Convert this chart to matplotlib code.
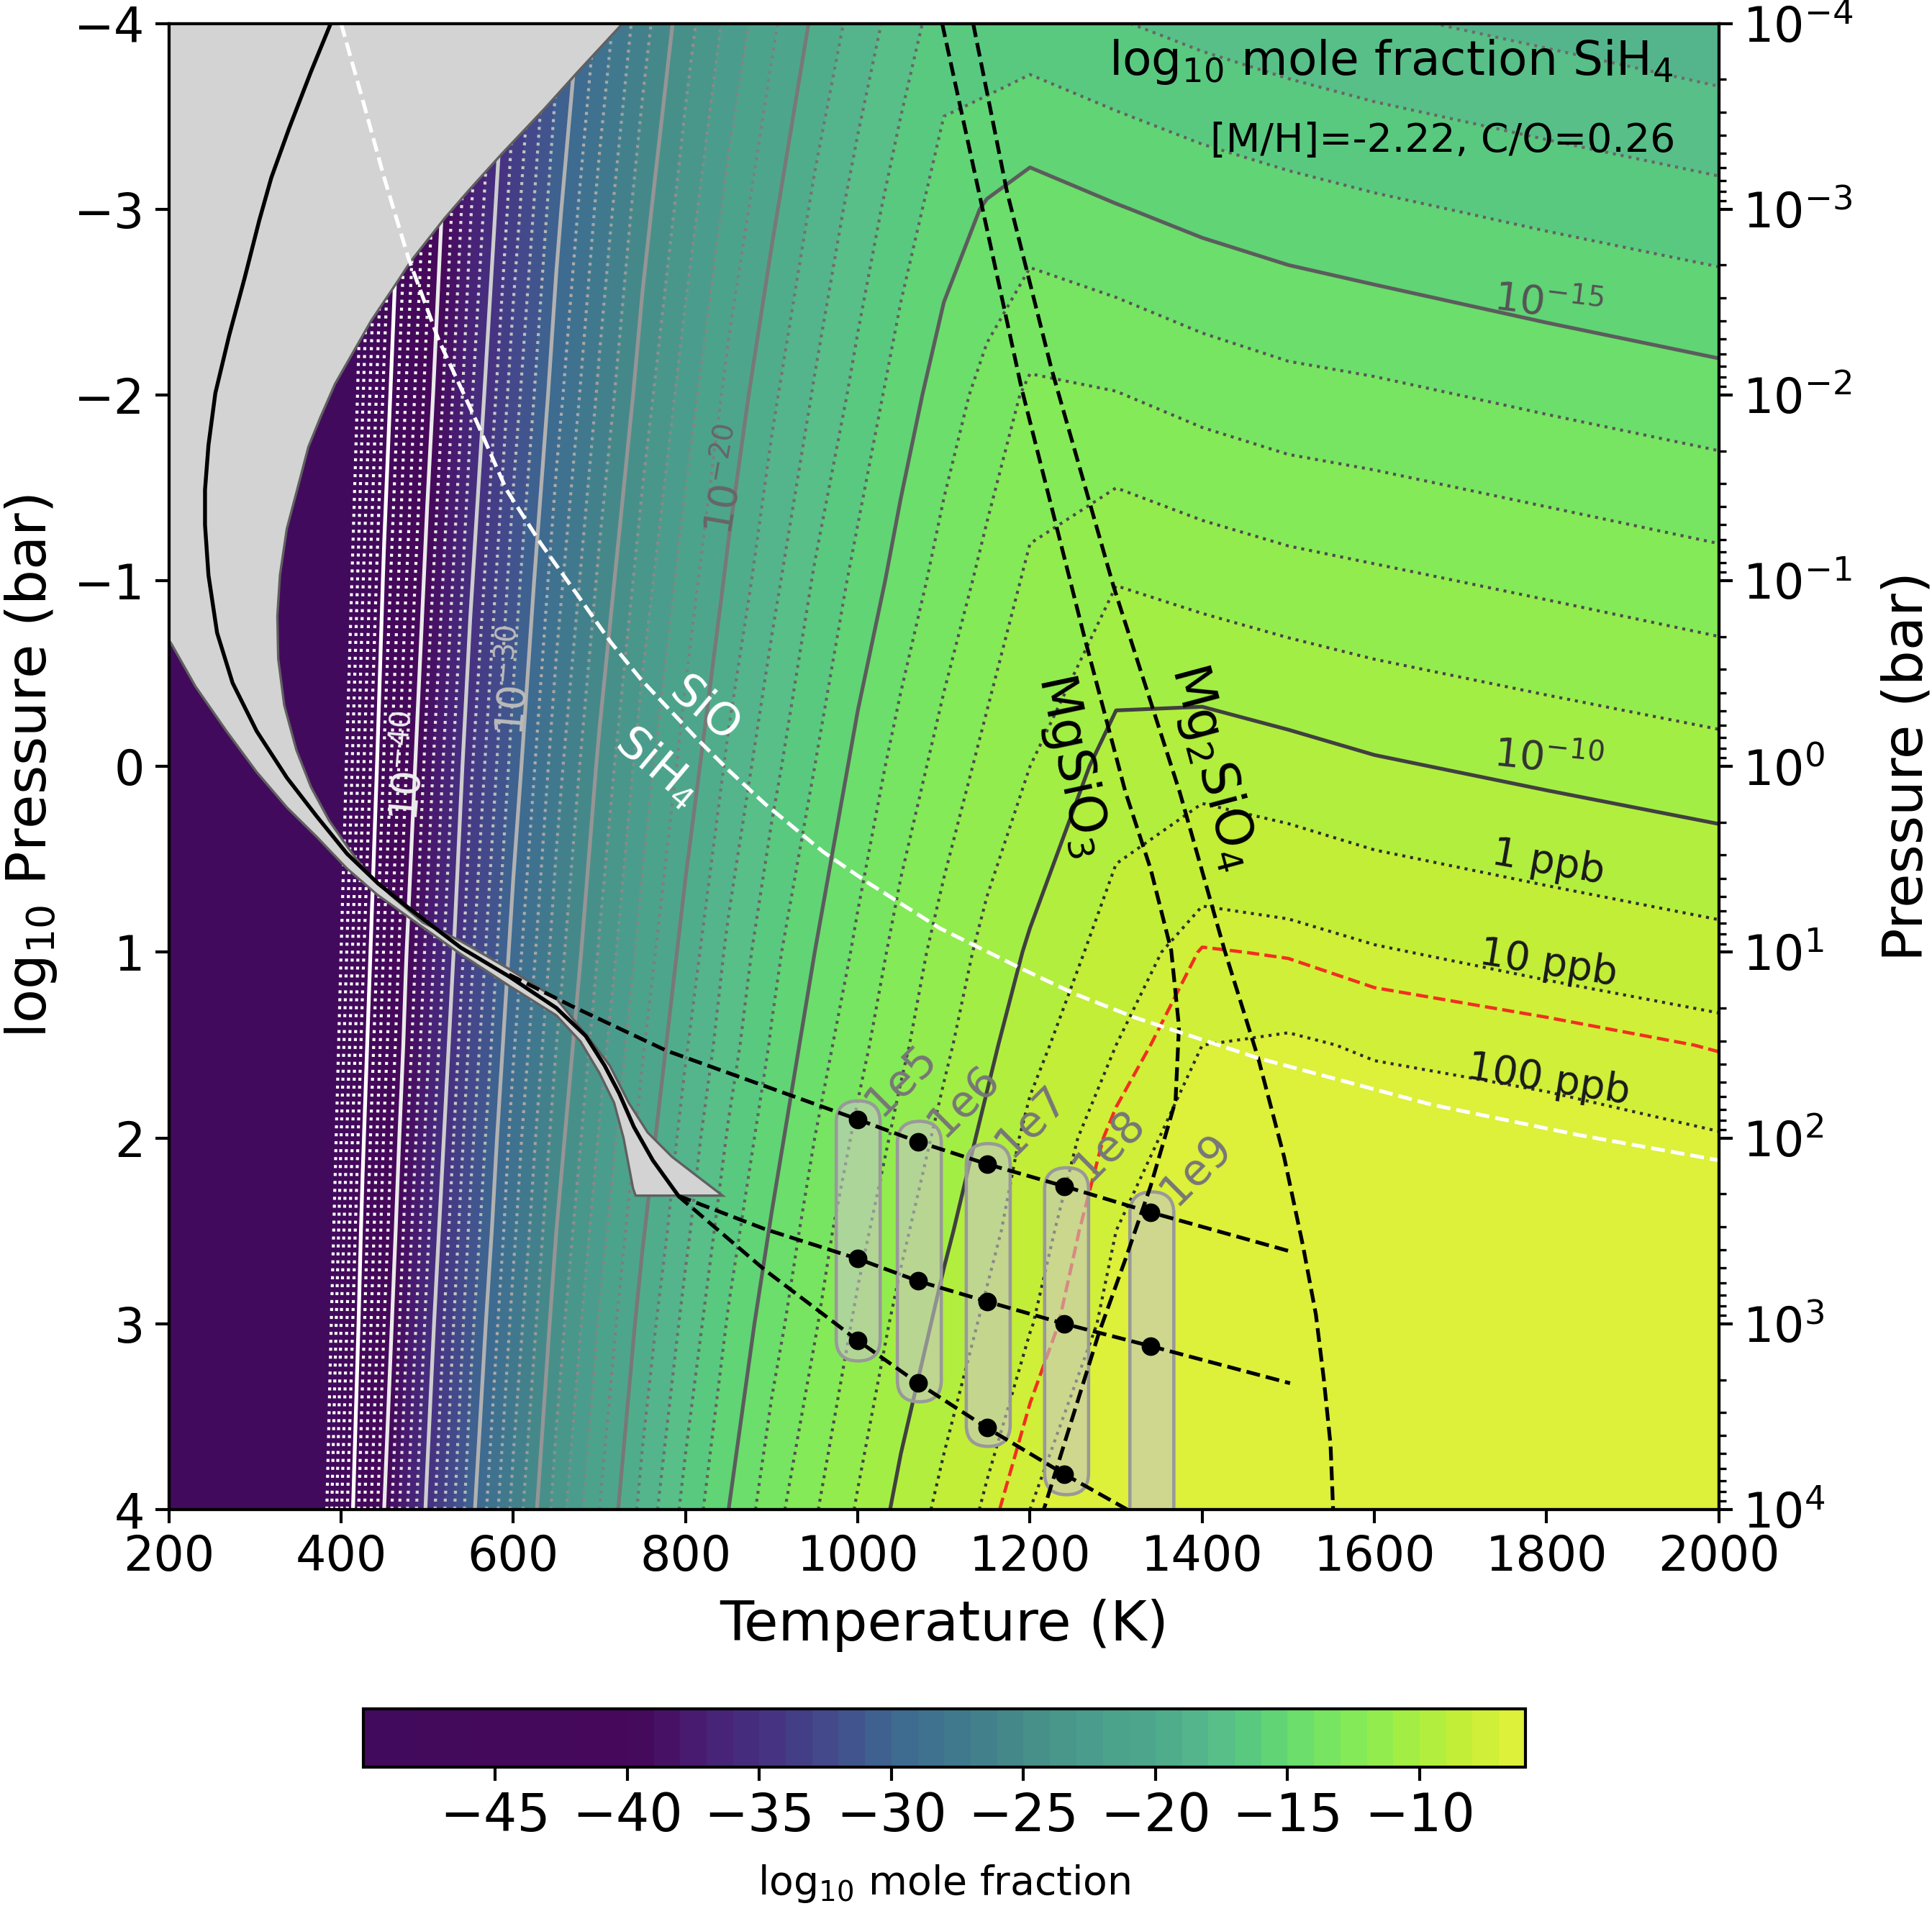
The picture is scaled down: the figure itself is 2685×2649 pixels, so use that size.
"""
SiH4 mole fraction map in the temperature-pressure plane
"""
import numpy as np
import matplotlib
matplotlib.use("Agg")
import matplotlib.pyplot as plt
import matplotlib.patches as mpatches
from matplotlib.cm import ScalarMappable
from matplotlib.colors import BoundaryNorm, LinearSegmentedColormap
from matplotlib.ticker import LogLocator, NullFormatter

# grid of log10 mole fraction, one row per temperature
pressure_grid = [-4, -3, -2, -1, 0, 1, 1.5, 2, 2.5, 3, 4]
temperature_grid = [200, 350, 380, 400, 425, 450, 475, 500, 550, 600, 650, 700, 750, 800,
                    850, 900, 950, 1000, 1050, 1100, 1150, 1200, 1300, 1400, 1500, 1600, 1800, 2000]
field_rows = [
    [-112.7, -111.8, -110.8, -109.8, -108.9, -107.9, -107.4, -106.9, -106.5, -106.0, -105.0],
    [-64.2, -63.3, -62.3, -61.3, -60.4, -59.4, -58.9, -58.4, -58.0, -57.5, -56.5],
    [-58.3, -57.3, -56.3, -55.4, -54.4, -53.4, -53.0, -52.5, -52.0, -51.5, -50.6],
    [-54.8, -53.8, -52.9, -51.9, -50.9, -50.0, -49.5, -49.0, -48.5, -48.0, -47.1],
    [-51.0, -50.0, -49.1, -48.1, -47.2, -46.2, -45.7, -45.2, -44.7, -44.3, -43.3],
    [-47.7, -46.8, -45.8, -44.8, -43.9, -42.9, -42.4, -41.9, -41.5, -41.0, -40.0],
    [-45.0, -44.0, -43.0, -42.1, -41.1, -40.1, -39.7, -39.2, -38.7, -38.2, -37.2],
    [-42.5, -41.5, -40.6, -39.6, -38.6, -37.7, -37.2, -36.7, -36.2, -35.7, -34.8],
    [-38.1, -37.1, -36.2, -35.2, -34.2, -33.3, -32.8, -32.3, -31.8, -31.3, -30.4],
    [-34.4, -33.5, -32.5, -31.5, -30.6, -29.6, -29.1, -28.6, -28.2, -27.7, -26.7],
    [-31.3, -30.3, -29.4, -28.4, -27.4, -26.5, -26.0, -25.5, -25.0, -24.5, -23.6],
    [-28.7, -27.7, -26.8, -25.8, -24.8, -23.9, -23.4, -22.9, -22.4, -21.9, -21.0],
    [-26.4, -25.4, -24.5, -23.5, -22.5, -21.6, -21.1, -20.6, -20.1, -19.6, -18.7],
    [-24.4, -23.5, -22.5, -21.5, -20.6, -19.6, -19.1, -18.6, -18.2, -17.7, -16.7],
    [-22.7, -21.7, -20.7, -19.8, -18.8, -17.8, -17.4, -16.9, -16.4, -15.9, -15.0],
    [-21.2, -20.2, -19.2, -18.3, -17.3, -16.3, -15.9, -15.4, -14.9, -14.4, -13.4],
    [-19.8, -18.8, -17.9, -16.9, -16.0, -15.0, -14.5, -14.0, -13.5, -13.1, -12.1],
    [-18.6, -17.6, -16.7, -15.7, -14.7, -13.8, -13.3, -12.8, -12.3, -11.8, -10.9],
    [-17.5, -16.5, -15.5, -14.6, -13.6, -12.6, -12.2, -11.7, -11.2, -10.7, -9.7],
    [-16.5, -15.5, -14.5, -13.6, -12.6, -11.6, -11.2, -10.7, -10.2, -9.7, -8.7],
    [-16.7, -14.9, -13.65, -12.7, -11.7, -10.7, -10.25, -9.75, -9.3, -8.8, -7.85],
    [-16.55, -14.55, -12.8, -11.8, -11.0, -9.85, -9.3, -8.75, -8.4, -8.05, -7.0],
    [-16.94, -14.94, -12.96, -11.04, -9.55, -8.5, -8.0, -7.4, -7.0, -6.7, -6.6],
    [-17.3, -15.3, -13.35, -11.35, -9.36, -7.55, -7.0, -6.6, -6.6, -6.6, -6.6],
    [-17.6, -15.58, -13.65, -11.62, -9.6, -7.65, -6.9, -6.6, -6.6, -6.6, -6.6],
    [-17.86, -15.82, -13.8, -11.82, -9.88, -7.92, -7.08, -6.6, -6.6, -6.6, -6.6],
    [-18.27, -16.24, -14.21, -12.2, -10.25, -8.3, -7.3, -6.7, -6.6, -6.6, -6.6],
    [-18.7, -16.63, -14.6, -12.6, -10.6, -8.66, -7.65, -6.95, -6.6, -6.6, -6.6],
]

# colours
cmap_levels = [-50, -40, -38, -35, -32, -30, -27, -25, -22, -20, -18, -16, -14, -12, -10, -8, -6]
cmap_colors = ["#420a5c", "#46085a", "#48196e", "#463282", "#42508c", "#3e6991", "#417d8c",
               "#468c8a", "#4ba08c", "#4ea88c", "#55b98c", "#5acd7d", "#6ee169", "#87eb55",
               "#a5ee44", "#c3ee37", "#ddf03a"]

# grey band of the profile envelope, top edge to the tip and back along the lower edge
band_t = [200, 727, 675, 636, 587, 548, 520, 481, 464, 435, 414, 393, 376, 362, 349, 337, 329, 326,
          327, 334, 348, 365, 386, 407, 428, 457, 495, 539, 595, 650, 689, 712, 734, 756, 784, 812, 843,
          742, 739, 728, 717, 700, 678, 650, 595, 539, 478, 442, 407, 372, 337, 302, 267, 231, 203, 200]
band_p = [-4, -4, -3.74, -3.54, -3.30, -3.10, -2.95, -2.72, -2.60, -2.40, -2.23, -2.06, -1.88, -1.72,
          -1.49, -1.28, -1.03, -0.81, -0.58, -0.33, -0.09, 0.11, 0.29, 0.43, 0.56, 0.69, 0.84, 0.94,
          1.09, 1.25, 1.47, 1.61, 1.81, 1.97, 2.10, 2.20, 2.31,
          2.31, 2.27, 2.00, 1.81, 1.65, 1.48, 1.34, 1.18, 1.01, 0.81, 0.69, 0.55, 0.38, 0.22, 0.03,
          -0.19, -0.43, -0.66, -0.68]

profile_t = [388, 365, 340, 319, 305, 288, 270, 254, 246, 242, 242, 246, 256, 274, 302, 337, 372, 407,
             443, 478, 539, 595, 650, 684, 706, 723, 740, 762, 790]
profile_p = [-4, -3.74, -3.44, -3.17, -2.94, -2.63, -2.32, -2.01, -1.73, -1.49, -1.30, -1.03, -0.72,
             -0.45, -0.19, 0.06, 0.27, 0.47, 0.63, 0.76, 0.975, 1.13, 1.30, 1.45, 1.61, 1.76, 1.94,
             2.12, 2.30]

# dashed deep profiles
deep1_t = [595, 668, 778, 1000, 1070, 1150, 1240, 1340, 1502]
deep1_p = [1.12, 1.29, 1.53, 1.90, 2.02, 2.14, 2.26, 2.40, 2.61]
deep2_t = [791, 892, 1000, 1070, 1150, 1240, 1340, 1502]
deep2_p = [2.31, 2.49, 2.65, 2.77, 2.88, 3.00, 3.12, 3.32]
deep3_t = [791, 892, 1000, 1070, 1150, 1240, 1313]
deep3_p = [2.31, 2.71, 3.09, 3.32, 3.56, 3.81, 4.0]

dot_t = [1000, 1070, 1150, 1240, 1340]
dot_p1 = [1.90, 2.02, 2.14, 2.26, 2.40]
dot_p2 = [2.65, 2.77, 2.88, 3.00, 3.12]
dot_p3 = [3.09, 3.32, 3.56, 3.81]

# rounded boxes around the dots, one per gravity
pill_left = [975, 1046, 1126, 1217, 1316]
pill_right = [1026, 1097, 1177, 1268, 1367]
pill_top = [1.80, 1.91, 2.03, 2.16, 2.29]
pill_bottom = [3.20, 3.42, 3.66, 3.92, 4.30]
pill_labels = ["1e5", "1e6", "1e7", "1e8", "1e9"]
pill_label_t = [1050, 1123, 1202, 1292, 1393]
pill_label_p = [1.69, 1.80, 1.91, 2.04, 2.17]

# condensation curves
mgsio3_t = [1098, 1145, 1190, 1263, 1311, 1340, 1364, 1373, 1369, 1340, 1311, 1280, 1216]
mgsio3_p = [-4, -3.0, -2.04, -0.70, 0.14, 0.55, 0.99, 1.40, 1.80, 2.26, 2.65, 3.05, 4.0]
mg2sio4_t = [1134, 1173, 1225, 1297, 1374, 1426, 1465, 1495, 1517, 1532, 1541, 1549, 1552]
mg2sio4_p = [-4, -3.1, -2.14, -0.97, 0.14, 0.99, 1.57, 2.10, 2.58, 2.95, 3.29, 3.65, 4.0]
sio_t = [400, 425, 450, 478, 513, 558, 592, 632, 675, 713, 748, 811, 850, 892, 960, 1010, 1095, 1191,
         1250, 1321, 1465, 1666, 1833, 2000]
sio_p = [-4, -3.59, -3.17, -2.74, -2.30, -1.85, -1.49, -1.20, -0.92, -0.67, -0.47, -0.16, 0.02, 0.20,
         0.46, 0.62, 0.87, 1.09, 1.22, 1.35, 1.57, 1.82, 1.98, 2.12]

# contour labels
label_text = ["$10^{-15}$", "$10^{-10}$", "1 ppb", "10 ppb", "100 ppb", "$10^{-20}$", "$10^{-30}$", "$10^{-40}$"]
label_t = [1802, 1802, 1802, 1802, 1802, 850, 603, 480]
label_p = [-2.49, -0.04, 0.52, 1.06, 1.69, -1.54, -0.46, 0.0]
label_rot = [-7, -6, -10, -9, -9, 80, 85, 85]
label_color = ["#555555", "#333333", "#1a1a1a", "#1a1a1a", "#1a1a1a", "#666666", "#bbbbbb", "#eeeeee"]

cbar_ticks = [-45, -40, -35, -30, -25, -20, -15, -10]

T = np.array(temperature_grid, dtype=float)
P = np.array(pressure_grid, dtype=float)
Z = np.array(field_rows).T

levels = np.arange(-50, -5)
cmap = LinearSegmentedColormap.from_list(
    "sih4", [((v + 50) / 44, c) for v, c in zip(cmap_levels, cmap_colors)], N=256)
cmap.set_under(cmap_colors[0])
norm = BoundaryNorm(levels, cmap.N)

fig = plt.figure(figsize=(8.95, 8.83), dpi=300)
ax = fig.add_axes([0.0874, 0.208, 0.8023, 0.7797])

ax.contourf(T, P, Z, levels=levels, cmap=cmap, norm=norm, extend="min")

# every decade dotted, every fifth one solid, white to dark with the level
line_levels = levels[:-1]
line_grey = [str(min(1.0, 0.25 + (-10 - v) * 0.0222)) if v <= -10 else "0.18" for v in line_levels]
line_styles = ["-" if v % 5 == 0 and v > -50 else ":" for v in line_levels]
line_widths = [1.25 if v % 5 == 0 and v > -50 else 1.0 for v in line_levels]
ax.contour(T, P, Z, levels=line_levels, colors=line_grey, linestyles=line_styles, linewidths=line_widths)
ax.contour(T, P, Z, levels=[-7.6], colors="#f03020", linestyles="--", linewidths=1.1)

ax.fill(band_t, band_p, facecolor="lightgrey", edgecolor="#606060", linewidth=0.8, zorder=3)
ax.plot(profile_t, profile_p, color="black", lw=1.3, zorder=4)

for left, right, top, bottom in zip(pill_left, pill_right, pill_top, pill_bottom):
    pill = mpatches.FancyBboxPatch(
        (left, top), right - left, bottom - top,
        boxstyle="round,pad=0,rounding_size=25.5",
        mutation_aspect=0.115 / 25.5,
        facecolor=(0.78, 0.78, 0.78, 0.6), edgecolor="#999999", linewidth=1.1, zorder=3)
    ax.add_patch(pill)

ax.plot(mgsio3_t, mgsio3_p, color="black", ls="--", lw=1.25, zorder=4)
ax.plot(mg2sio4_t, mg2sio4_p, color="black", ls="--", lw=1.25, zorder=4)
ax.plot(sio_t, sio_p, color="white", ls="--", lw=1.25, zorder=4)

for pt, pp in [(deep1_t, deep1_p), (deep2_t, deep2_p), (deep3_t, deep3_p)]:
    ax.plot(pt, pp, color="black", ls="--", lw=1.25, zorder=4)
ax.plot(dot_t, dot_p1, "o", color="black", ms=5.2, zorder=5)
ax.plot(dot_t, dot_p2, "o", color="black", ms=5.2, zorder=5)
ax.plot(dot_t[:4], dot_p3, "o", color="black", ms=5.2, zorder=5)

for name, lt, lp in zip(pill_labels, pill_label_t, pill_label_p):
    ax.text(lt, lp, name, color="#777777", fontsize=14.5, rotation=45, ha="center", va="center", zorder=6)
for name, lt, lp, rot, col in zip(label_text, label_t, label_p, label_rot, label_color):
    ax.text(lt, lp, name, color=col, fontsize=13.3, rotation=rot, ha="center", va="center", zorder=6)

ax.text(822, -0.3, "SiO", color="white", fontsize=15, rotation=-40, ha="center", va="center", zorder=6)
ax.text(767, 0.0, "SiH$_4$", color="white", fontsize=15, rotation=-40, ha="center", va="center", zorder=6)
ax.text(1249, -0.01, "MgSiO$_3$", color="black", fontsize=17, rotation=-78, ha="center", va="center", zorder=6)
ax.text(1413, 0.0, "Mg$_2$SiO$_4$", color="black", fontsize=17, rotation=-75, ha="center", va="center", zorder=6)

ax.text(0.9706, 0.974, "log$_{10}$ mole fraction SiH$_4$", transform=ax.transAxes, fontsize=15.9,
        ha="right", va="center", zorder=6)
ax.text(0.972, 0.921, "[M/H]=-2.22, C/O=0.26", transform=ax.transAxes, fontsize=13.3,
        ha="right", va="center", zorder=6)

ax.set_xlim(200, 2000)
ax.set_ylim(4, -4)
ax.set_xticks(range(200, 2001, 200))
ax.set_yticks(range(-4, 5))
ax.tick_params(labelsize=16, length=4.5, width=1.0)
ax.set_xlabel("Temperature (K)", fontsize=18.5, labelpad=6)
ax.set_ylabel("log$_{10}$ Pressure (bar)", fontsize=18.5, labelpad=5)
for spine in ax.spines.values():
    spine.set_linewidth(1.0)

# same pressure axis in bar on the right
ax2 = ax.twinx()
ax2.set_yscale("log")
ax2.set_ylim(1e4, 1e-4)
ax2.yaxis.set_major_locator(LogLocator(base=10, numticks=20))
ax2.yaxis.set_minor_locator(LogLocator(base=10, subs=range(2, 10), numticks=20))
ax2.yaxis.set_minor_formatter(NullFormatter())
ax2.tick_params(which="major", labelsize=16, length=4.5, width=1.0)
ax2.tick_params(which="minor", length=2.5, width=0.8)
ax2.set_ylabel("Pressure (bar)", fontsize=18.5, labelpad=9)
for spine in ax2.spines.values():
    spine.set_linewidth(1.0)

cax = fig.add_axes([0.188, 0.073, 0.6015, 0.0304])
cb = fig.colorbar(ScalarMappable(norm=norm, cmap=cmap), cax=cax, orientation="horizontal",
                  spacing="proportional")
cb.set_ticks(cbar_ticks)
cb.ax.minorticks_off()
cb.ax.tick_params(labelsize=17.5, length=4.5, width=1.0)
cb.outline.set_linewidth(1.0)
cb.set_label("log$_{10}$ mole fraction", fontsize=13.3, labelpad=7)

fig.savefig("out.png", dpi=300)
